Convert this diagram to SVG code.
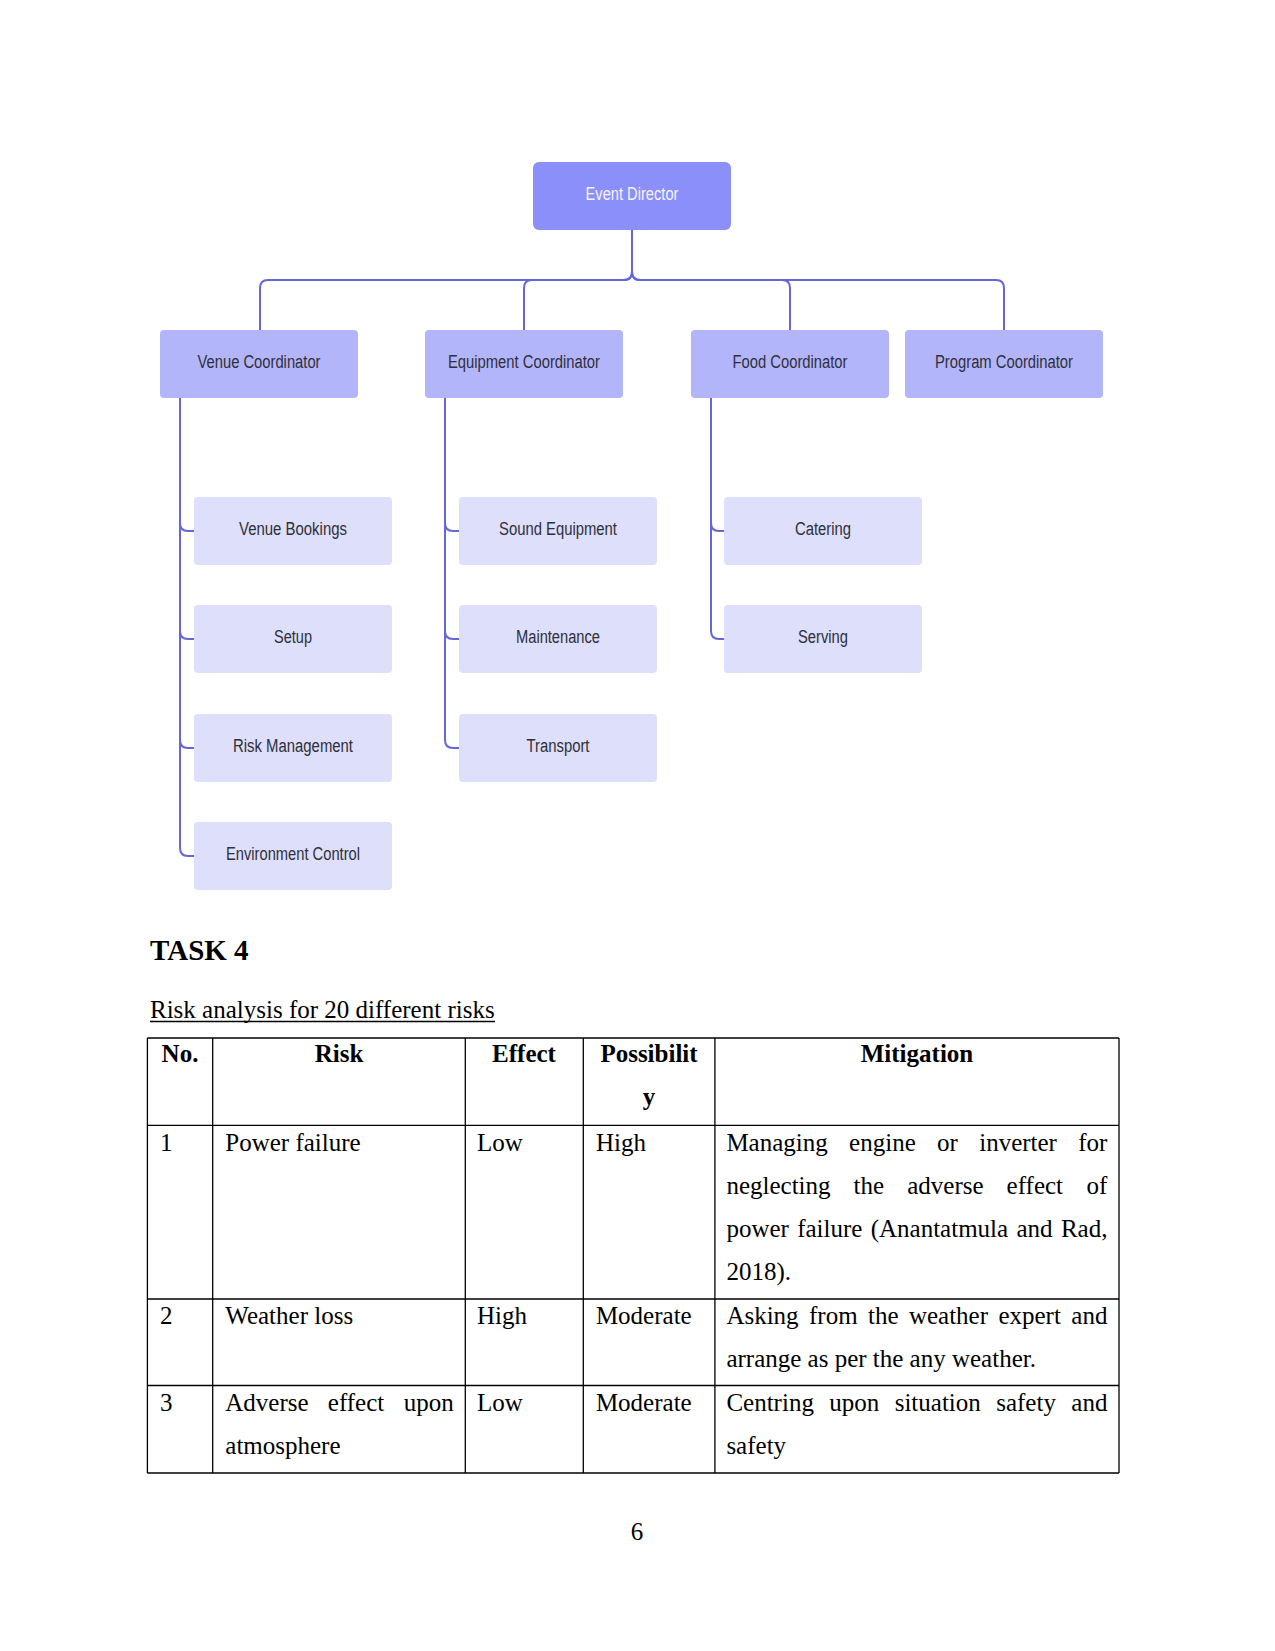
<svg xmlns="http://www.w3.org/2000/svg" width="1275" height="1651" viewBox="0 0 1275 1651">
<style>
.n text{font-family:"Liberation Sans",Arial,sans-serif;font-size:18px;text-anchor:middle;fill:#2f2f3a}
.top rect{fill:#8b8ff9}
.top text{fill:#f4f4ff}
.co rect{fill:#b3b5fb}
.ch rect{fill:#dddffb}
.conn path{fill:none;stroke:#6567d9;stroke-width:2}
.t{font-family:"Liberation Serif","Times New Roman",serif;font-size:25px;fill:#000}
.b{font-weight:bold}
.c{text-anchor:middle}
.grid line{stroke:#000;stroke-width:1.3}
</style>
<rect width="1275" height="1651" fill="#fff"/>
<g class="conn">
<path d="M632 230 V272 Q632 280 624 280 H268 Q260 280 260 288 V330"/>
<path d="M632 230 V272 Q632 280 624 280 H532 Q524 280 524 288 V330"/>
<path d="M632 230 V272 Q632 280 640 280 H782 Q790 280 790 288 V330"/>
<path d="M632 230 V272 Q632 280 640 280 H996 Q1004 280 1004 288 V330"/>
<path d="M180 398 V523 Q180 531 188 531 H194"/>
<path d="M180 398 V631 Q180 639 188 639 H194"/>
<path d="M180 398 V740 Q180 748 188 748 H194"/>
<path d="M180 398 V848 Q180 856 188 856 H194"/>
<path d="M445 398 V523 Q445 531 453 531 H459"/>
<path d="M445 398 V631 Q445 639 453 639 H459"/>
<path d="M445 398 V740 Q445 748 453 748 H459"/>
<path d="M711 398 V523 Q711 531 719 531 H724"/>
<path d="M711 398 V631 Q711 639 719 639 H724"/>
</g>
<g class="n top" id="event-director"><rect x="533" y="162" width="198" height="68" rx="6"/><text x="632" y="200" textLength="93" lengthAdjust="spacingAndGlyphs">Event Director</text></g>
<g class="n co" id="venue-coordinator"><rect x="160" y="330" width="198" height="68" rx="4"/><text x="259" y="367.5" textLength="123" lengthAdjust="spacingAndGlyphs">Venue Coordinator</text></g>
<g class="n co" id="equipment-coordinator"><rect x="425" y="330" width="198" height="68" rx="4"/><text x="524" y="367.5" textLength="152" lengthAdjust="spacingAndGlyphs">Equipment Coordinator</text></g>
<g class="n co" id="food-coordinator"><rect x="691" y="330" width="198" height="68" rx="4"/><text x="790" y="367.5" textLength="115" lengthAdjust="spacingAndGlyphs">Food Coordinator</text></g>
<g class="n co" id="program-coordinator"><rect x="905" y="330" width="198" height="68" rx="4"/><text x="1004" y="367.5" textLength="138" lengthAdjust="spacingAndGlyphs">Program Coordinator</text></g>
<g class="n ch" id="venue-bookings"><rect x="194" y="497" width="198" height="68" rx="4"/><text x="293" y="535" textLength="108" lengthAdjust="spacingAndGlyphs">Venue Bookings</text></g>
<g class="n ch" id="setup"><rect x="194" y="605" width="198" height="68" rx="4"/><text x="293" y="643" textLength="38" lengthAdjust="spacingAndGlyphs">Setup</text></g>
<g class="n ch" id="risk-management"><rect x="194" y="714" width="198" height="68" rx="4"/><text x="293" y="752" textLength="120" lengthAdjust="spacingAndGlyphs">Risk Management</text></g>
<g class="n ch" id="environment-control"><rect x="194" y="822" width="198" height="68" rx="4"/><text x="293" y="860" textLength="134" lengthAdjust="spacingAndGlyphs">Environment Control</text></g>
<g class="n ch" id="sound-equipment"><rect x="459" y="497" width="198" height="68" rx="4"/><text x="558" y="535" textLength="118" lengthAdjust="spacingAndGlyphs">Sound Equipment</text></g>
<g class="n ch" id="maintenance"><rect x="459" y="605" width="198" height="68" rx="4"/><text x="558" y="643" textLength="84" lengthAdjust="spacingAndGlyphs">Maintenance</text></g>
<g class="n ch" id="transport"><rect x="459" y="714" width="198" height="68" rx="4"/><text x="558" y="752" textLength="63" lengthAdjust="spacingAndGlyphs">Transport</text></g>
<g class="n ch" id="catering"><rect x="724" y="497" width="198" height="68" rx="4"/><text x="823" y="535" textLength="56" lengthAdjust="spacingAndGlyphs">Catering</text></g>
<g class="n ch" id="serving"><rect x="724" y="605" width="198" height="68" rx="4"/><text x="823" y="643" textLength="50" lengthAdjust="spacingAndGlyphs">Serving</text></g>

<text class="t b" x="150" y="960" style="font-size:29px">TASK 4</text>
<text class="t" x="150" y="1018">Risk analysis for 20 different risks</text>
<line x1="150" y1="1021.5" x2="495" y2="1021.5" stroke="#000" stroke-width="1.3"/>

<g class="grid">
<line x1="147.4" y1="1038" x2="1119" y2="1038"/>
<line x1="147.4" y1="1125.4" x2="1119" y2="1125.4"/>
<line x1="147.4" y1="1299" x2="1119" y2="1299"/>
<line x1="147.4" y1="1385.5" x2="1119" y2="1385.5"/>
<line x1="147.4" y1="1473" x2="1119" y2="1473"/>
<line x1="147.4" y1="1038" x2="147.4" y2="1473"/>
<line x1="212.7" y1="1038" x2="212.7" y2="1473"/>
<line x1="465.3" y1="1038" x2="465.3" y2="1473"/>
<line x1="583.3" y1="1038" x2="583.3" y2="1473"/>
<line x1="714.9" y1="1038" x2="714.9" y2="1473"/>
<line x1="1119" y1="1038" x2="1119" y2="1473"/>
</g>
<g class="t b c">
<text x="180" y="1062">No.</text>
<text x="339" y="1062">Risk</text>
<text x="524" y="1062">Effect</text>
<text x="649" y="1062">Possibilit</text>
<text x="649" y="1105">y</text>
<text x="917" y="1062">Mitigation</text>
</g>
<g class="t">
<text x="160" y="1151">1</text>
<text x="225.3" y="1151">Power failure</text>
<text x="477" y="1151">Low</text>
<text x="595.9" y="1151">High</text>
<text y="1151"><tspan x="726.4">Managing</tspan><tspan x="849.1">engine</tspan><tspan x="937.1">or</tspan><tspan x="979.2">inverter</tspan><tspan x="1078.3">for</tspan></text>
<text y="1194"><tspan x="726.4">neglecting</tspan><tspan x="853.6">the</tspan><tspan x="907.2">adverse</tspan><tspan x="1006.6">effect</tspan><tspan x="1086.6">of</tspan></text>
<text y="1237"><tspan x="726.4">power</tspan><tspan x="797.2">failure</tspan><tspan x="870.7">(Anantatmula</tspan><tspan x="1016.5">and</tspan><tspan x="1060.9">Rad,</tspan></text>
<text x="726.4" y="1280">2018).</text>

<text x="160" y="1324">2</text>
<text x="225.3" y="1324">Weather loss</text>
<text x="477" y="1324">High</text>
<text x="595.9" y="1324">Moderate</text>
<text y="1324"><tspan x="726.4">Asking</tspan><tspan x="809">from</tspan><tspan x="868">the</tspan><tspan x="908.9">weather</tspan><tspan x="998.4">expert</tspan><tspan x="1071.3">and</tspan></text>
<text x="726.4" y="1367">arrange as per the any weather.</text>

<text x="160" y="1411">3</text>
<text y="1411"><tspan x="225.3">Adverse</tspan><tspan x="327.8">effect</tspan><tspan x="403.8">upon</tspan></text>
<text x="225.3" y="1454">atmosphere</text>
<text x="477" y="1411">Low</text>
<text x="595.9" y="1411">Moderate</text>
<text y="1411"><tspan x="726.4">Centring</tspan><tspan x="829.3">upon</tspan><tspan x="894.7">situation</tspan><tspan x="996.2">safety</tspan><tspan x="1071.3">and</tspan></text>
<text x="726.4" y="1454">safety</text>

<text class="c" x="637" y="1540">6</text>
</g>
</svg>
